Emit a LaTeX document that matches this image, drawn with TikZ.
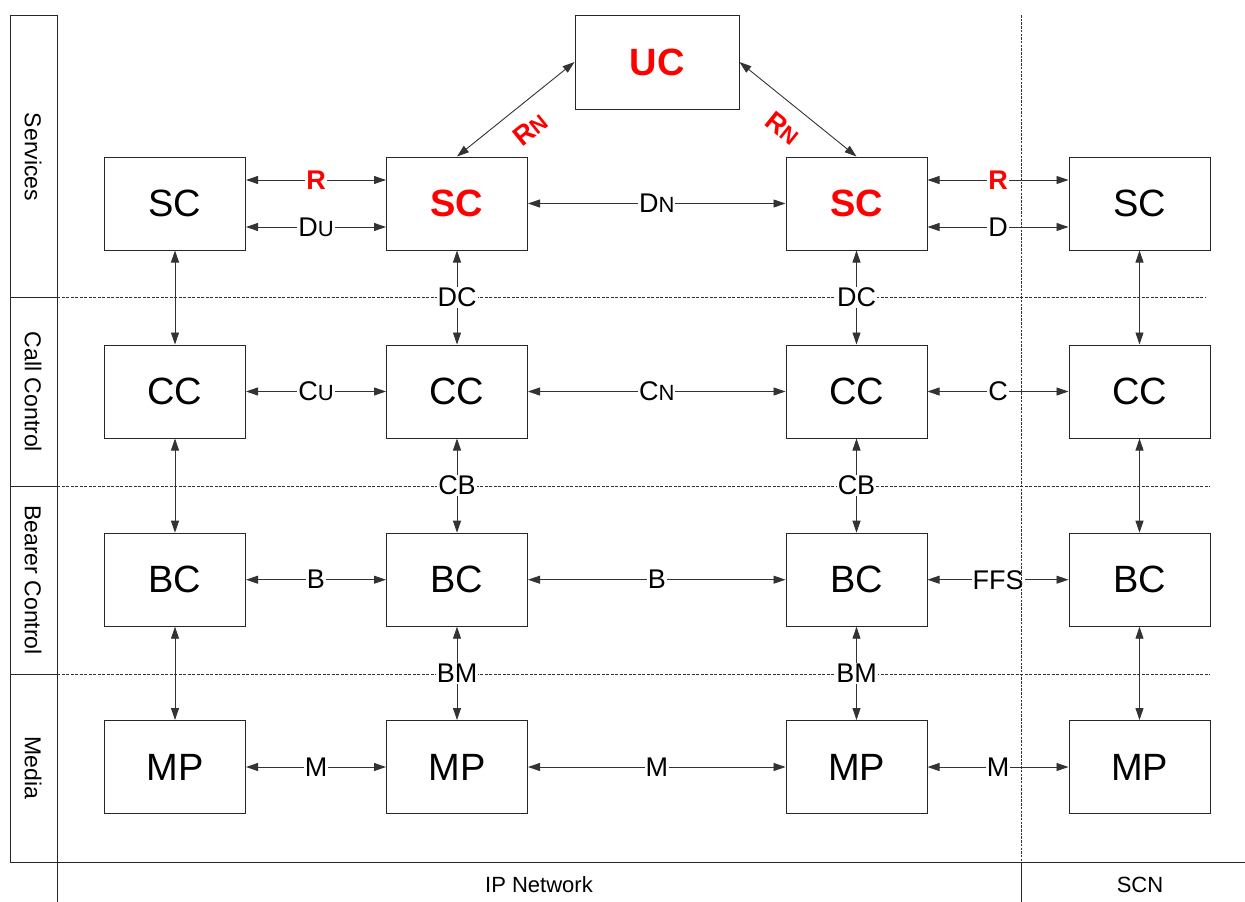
\documentclass[tikz,border=0pt]{standalone}
\usepackage{fontspec}
\setmainfont{Liberation Sans}
\usetikzlibrary{arrows.meta,calc}
\newcommand\lsm[1]{{\fontsize{22}{22}\selectfont #1}}
\begin{document}
\begin{tikzpicture}[x=1pt,y=-1pt,
  box/.style={draw=black!85, line width=1pt, minimum width=141pt, minimum height=93pt, inner sep=0pt, font=\fontsize{38}{38}\selectfont},
  rbox/.style={box, text=red, font=\fontsize{38}{38}\selectfont\bfseries},
  conn/.style={{Triangle[length=12pt,width=8pt]}-{Triangle[length=12pt,width=8pt]}, line width=0.9pt, draw=black!80},
  lbl/.style={fill=white, inner sep=1pt, font=\fontsize{27}{27}\selectfont},
  rlbl/.style={lbl, text=red, font=\fontsize{27}{27}\selectfont\bfseries},
  lane/.style={line width=0.8pt, dash pattern=on 3pt off 1.5pt, draw=black!80},
  frame/.style={line width=0.9pt, draw=black!85},
  lanetext/.style={rotate=-90, font=\fontsize{23}{23}\selectfont},
  foot/.style={font=\fontsize{22}{22}\selectfont},
]
\useasboundingbox (0,0) rectangle (1245,902);

% frame and lanes
\draw[frame] (10,862) -- (10,15) -- (57,15);
\draw[frame] (57,15) -- (57,902);
\draw[frame] (10,862) -- (1245,862);
\draw[frame] (10,297) -- (57,297);
\draw[frame] (10,486) -- (57,486);
\draw[frame] (10,674) -- (57,674);
\draw[lane] (57,297) -- (1205,297);
\draw[lane] (57,486) -- (1210,486);
\draw[lane] (57,674) -- (1210,674);
\draw[frame] (1021,862) -- (1021,902);

\node[lanetext] (lsv) at (33,157) {Services};
\node[lanetext] (lcc) at (33,392) {Call Control};
\node[lanetext] (lbc) at (33,580) {Bearer Control};
\node[lanetext] (lmd) at (33,768) {Media};
\node[foot] (ipn) at (539,885) {IP Network};
\node[foot] (scn) at (1140,885) {SCN};

% boxes
\node[rbox, minimum width=164pt, minimum height=94pt] (uc) at (657,62) {UC};
\node[box]  (sc1) at (175,203.5) {SC};
\node[rbox] (sc2) at (457,203.5) {SC};
\node[rbox] (sc3) at (856.5,203.5) {SC};
\node[box]  (sc4) at (1139.5,203.5) {SC};
\node[box] (cc1) at (175,391.5) {CC};
\node[box] (cc2) at (457,391.5) {CC};
\node[box] (cc3) at (856.5,391.5) {CC};
\node[box] (cc4) at (1139.5,391.5) {CC};
\node[box] (bc1) at (175,579.7) {BC};
\node[box] (bc2) at (457,579.7) {BC};
\node[box] (bc3) at (856.5,579.7) {BC};
\node[box] (bc4) at (1139.5,579.7) {BC};
\node[box] (mp1) at (175,767) {MP};
\node[box] (mp2) at (457,767) {MP};
\node[box] (mp3) at (856.5,767) {MP};
\node[box] (mp4) at (1139.5,767) {MP};

% UC links
\draw[conn] (uc.west) -- (sc2.north);
\draw[conn] (uc.east) -- (sc3.north);
\node[rlbl, fill=none, rotate=38.8] (rn1) at (530,129) {R\lsm{N}};
\node[rlbl, fill=none, rotate=-38.6] (rn2) at (783,128) {R\lsm{N}};

% services row
\draw[conn] ([yshift=23.5pt]sc1.east) -- node[rlbl]{R} ([yshift=23.5pt]sc2.west);
\draw[conn] ([yshift=-23.5pt]sc1.east) -- node[lbl]{D\lsm{U}} ([yshift=-23.5pt]sc2.west);
\draw[conn] (sc2.east) -- node[lbl]{D\lsm{N}} (sc3.west);
\draw[conn] ([yshift=23.5pt]sc3.east) -- node[rlbl]{R} ([yshift=23.5pt]sc4.west);
\draw[conn] ([yshift=-23.5pt]sc3.east) -- node[lbl]{D} ([yshift=-23.5pt]sc4.west);

% call control row
\draw[conn] (cc1.east) -- node[lbl]{C\lsm{U}} (cc2.west);
\draw[conn] (cc2.east) -- node[lbl]{C\lsm{N}} (cc3.west);
\draw[conn] (cc3.east) -- node[lbl]{C} (cc4.west);

% bearer row
\draw[conn] (bc1.east) -- node[lbl]{B} (bc2.west);
\draw[conn] (bc2.east) -- node[lbl]{B} (bc3.west);
\draw[conn] (bc3.east) -- node[lbl]{FFS} (bc4.west);

% media row
\draw[conn] (mp1.east) -- node[lbl]{M} (mp2.west);
\draw[conn] (mp2.east) -- node[lbl]{M} (mp3.west);
\draw[conn] (mp3.east) -- node[lbl]{M} (mp4.west);

% verticals
\draw[conn] (sc1.south) -- (cc1.north);
\draw[conn] (sc2.south) -- node[lbl]{DC} (cc2.north);
\draw[conn] (sc3.south) -- node[lbl]{DC} (cc3.north);
\draw[conn] (sc4.south) -- (cc4.north);
\draw[conn] (cc1.south) -- (bc1.north);
\draw[conn] (cc2.south) -- node[lbl]{CB} (bc2.north);
\draw[conn] (cc3.south) -- node[lbl]{CB} (bc3.north);
\draw[conn] (cc4.south) -- (bc4.north);
\draw[conn] (bc1.south) -- (mp1.north);
\draw[conn] (bc2.south) -- node[lbl]{BM} (mp2.north);
\draw[conn] (bc3.south) -- node[lbl]{BM} (mp3.north);
\draw[conn] (bc4.south) -- (mp4.north);

% IP / SCN boundary
\draw[lane, dash pattern=on 2.5pt off 1.2pt] (1021,15) -- (1021,862);
\end{tikzpicture}
\end{document}
